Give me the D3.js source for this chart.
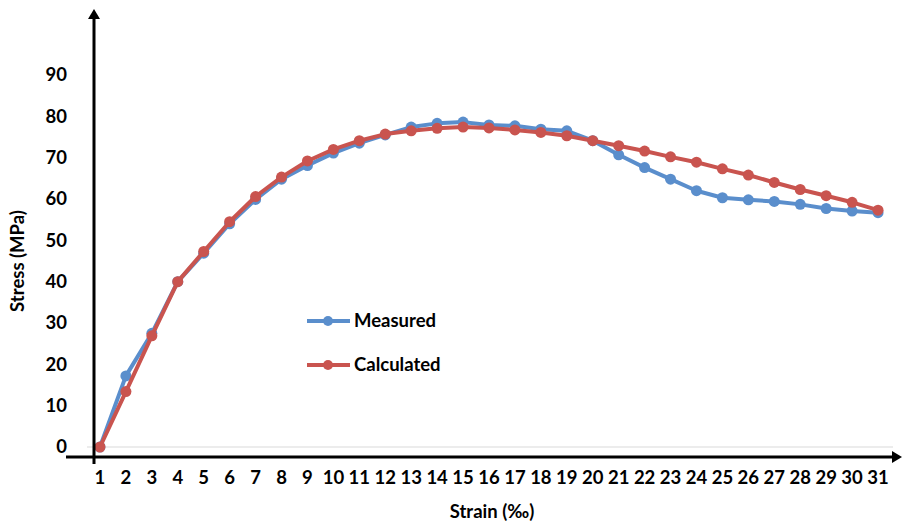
<!DOCTYPE html>
<html><head><meta charset="utf-8">
<script src="https://cdn.jsdelivr.net/npm/d3@7"></script>
<style>body{margin:0;background:#fff}svg{display:block}</style>
</head><body>
<svg id="chart" width="902" height="523"></svg>
<script>
const strain = d3.range(1, 32).map(String);
const measured = [0, 17.2, 27.5, 40.0, 46.9, 54.0, 59.9, 64.8, 68.1, 71.1, 73.5, 75.5, 77.4, 78.3, 78.6, 77.9, 77.7, 76.9, 76.5, 74.1, 70.7, 67.6, 64.8, 62.0, 60.3, 59.8, 59.4, 58.7, 57.7, 57.1, 56.7];
const calculated = [0, 13.4, 26.9, 40.0, 47.3, 54.5, 60.6, 65.3, 69.2, 72.0, 74.1, 75.7, 76.5, 77.1, 77.4, 77.2, 76.7, 76.1, 75.3, 74.1, 72.9, 71.6, 70.2, 68.9, 67.3, 65.8, 64.0, 62.3, 60.8, 59.2, 57.3];
const yTicks = [0, 10, 20, 30, 40, 50, 60, 70, 80, 90];
const seriesNames = ["Measured", "Calculated"];
const colors = ["#5A8ECC", "#C9544F"];

const svg = d3.select("#chart");
const font = "Lato, 'Open Sans', sans-serif";
const fs = 18.5;
const fw = 700;
const x = d3.scaleBand().domain(strain).range([87, 891]);
const y = d3.scaleLinear().domain([0, 90]).range([447, 75]);
const cx = d => x(d) + x.bandwidth() / 2;

// light gridline at 0
svg.append("line").attr("x1", 87).attr("x2", 893).attr("y1", y(0)).attr("y2", y(0))
  .attr("stroke", "#d9d9d9").attr("stroke-width", 1);

// y tick labels
const yAxis = d3.axisLeft(y).tickValues(yTicks).tickSize(0).tickPadding(0);
const gy = svg.append("g").attr("transform", "translate(67,0)").call(yAxis);
gy.select(".domain").remove();
gy.selectAll("text").attr("font-family", font).attr("font-size", fs).attr("font-weight", fw).attr("fill", "#000");

// x tick labels
const xAxis = d3.axisBottom(x).tickSize(0).tickPadding(0);
const gx = svg.append("g").attr("transform", "translate(0,471)").call(xAxis);
gx.select(".domain").remove();
gx.selectAll("text").attr("font-family", font).attr("font-size", fs).attr("font-weight", fw).attr("fill", "#000");

// series
const data = [measured, calculated];
const line = d3.line().x((d, i) => cx(strain[i])).y(d => y(d));
data.forEach((vals, k) => {
  svg.append("path").datum(vals).attr("d", line).attr("fill", "none")
    .attr("stroke", colors[k]).attr("stroke-width", 4).attr("stroke-linejoin", "round");
  svg.append("g").selectAll("circle").data(vals).join("circle")
    .attr("cx", (d, i) => cx(strain[i])).attr("cy", d => y(d)).attr("r", 5.5)
    .attr("fill", colors[k]);
});

// axes with arrows
svg.append("line").attr("x1", 94).attr("x2", 94).attr("y1", 16).attr("y2", 464)
  .attr("stroke", "#000").attr("stroke-width", 3);
svg.append("path").attr("d", "M94,9 L88,19 L100,19 Z").attr("fill", "#000");
svg.append("line").attr("x1", 66).attr("x2", 895).attr("y1", 457).attr("y2", 457)
  .attr("stroke", "#000").attr("stroke-width", 3);
svg.append("path").attr("d", "M902,457 L892,451 L892,463 Z").attr("fill", "#000");

// legend
seriesNames.forEach((n, k) => {
  const ly = 321 + k * 44;
  svg.append("line").attr("x1", 307).attr("x2", 350).attr("y1", ly).attr("y2", ly)
    .attr("stroke", colors[k]).attr("stroke-width", 4);
  svg.append("circle").attr("cx", 328).attr("cy", ly).attr("r", 5).attr("fill", colors[k]);
  svg.append("text").attr("x", 354).attr("y", ly + 6).text(n)
    .attr("font-family", font).attr("font-size", fs).attr("font-weight", fw);
});

// axis titles
svg.append("text").attr("x", 492).attr("y", 518).attr("text-anchor", "middle")
  .attr("font-family", font).attr("font-size", fs).attr("font-weight", fw).text("Strain (‰)");
svg.append("text").attr("transform", "translate(24,261) rotate(-90)").attr("text-anchor", "middle")
  .attr("font-family", font).attr("font-size", fs).attr("font-weight", fw).text("Stress (MPa)");
</script>
</body></html>
